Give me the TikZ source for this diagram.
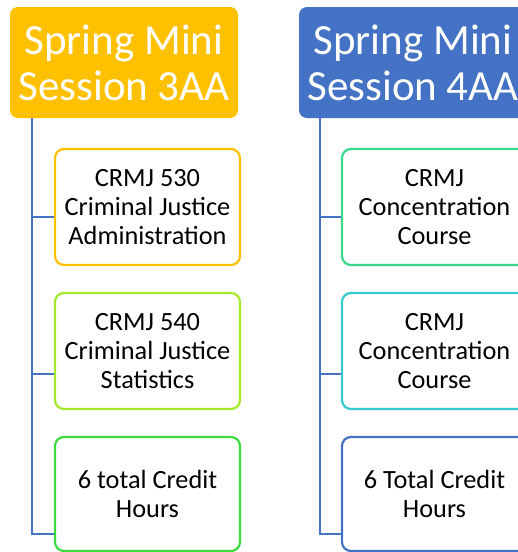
\documentclass[tikz,border=0pt]{standalone}
\usepackage{fontspec}
\setmainfont{Carlito}
\definecolor{gold}{HTML}{FFC000}
\definecolor{blueh}{HTML}{4472C4}
\definecolor{lime}{HTML}{A6E82C}
\definecolor{greenb}{HTML}{3CDC3C}
\definecolor{teal}{HTML}{3AD98A}
\definecolor{cyanb}{HTML}{38C8D0}
\begin{document}
\begin{tikzpicture}[x=1pt,y=-1pt,
  header/.style={rounded corners=8pt,minimum width=228pt,minimum height=111pt,inner sep=0pt,
    text=white,align=center,font=\fontsize{43}{46}\selectfont},
  child/.style={draw,line width=2.2pt,rounded corners=9pt,fill=white,minimum width=185pt,
    minimum height=116pt,inner sep=0pt,align=center,font=\fontsize{26.3}{29}\selectfont,text=black},
  conn/.style={draw=blueh,line width=2.2pt}]
\useasboundingbox (0,0) rectangle (518,552);
\clip (0,0) rectangle (518,552);
% left column
\node[header,fill=gold] (h1) at (124,62.5) {Spring Mini\\Session 3AA};
\coordinate (t1) at (32,118);
\node[child,draw=gold] (a1) at (147.5,207) {CRMJ 530\\Criminal Justice\\Administration};
\node[child,draw=lime] (a2) at (147.5,351) {CRMJ 540\\Criminal Justice\\Statistics};
\node[child,draw=greenb,minimum height=114pt] (a3) at (147.5,494) {6 total Credit\\Hours};
\draw[conn] (t1) |- ([yshift=-9.7pt]a1.west);
\draw[conn] (t1) |- ([yshift=-23pt]a2.west);
\draw[conn] (t1) |- ([yshift=-40pt]a3.west);
% right column
\node[header,fill=blueh] (h2) at (413,62.5) {Spring Mini\\Session 4AA};
\coordinate (t2) at (320,118);
\node[child,draw=teal] (b1) at (434.5,207) {CRMJ\\Concentration\\Course};
\node[child,draw=cyanb] (b2) at (434.5,351) {CRMJ\\Concentration\\Course};
\node[child,draw=blueh,minimum height=114pt] (b3) at (434.5,494) {6 Total Credit\\Hours};
\draw[conn] (t2) |- ([yshift=-9.7pt]b1.west);
\draw[conn] (t2) |- ([yshift=-23pt]b2.west);
\draw[conn] (t2) |- ([yshift=-40pt]b3.west);
\end{tikzpicture}
\end{document}
